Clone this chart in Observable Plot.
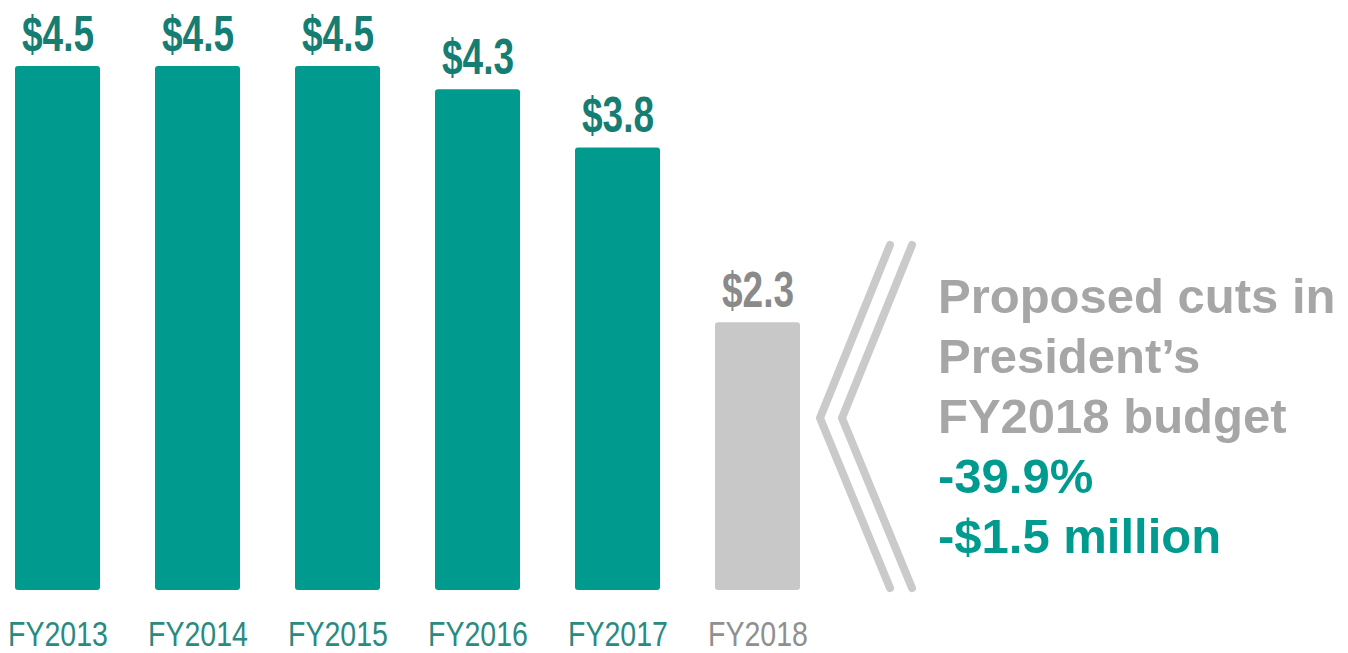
<!DOCTYPE html>
<html>
<head>
<meta charset="utf-8">
<script src="https://cdn.jsdelivr.net/npm/d3@7"></script>
<script src="https://cdn.jsdelivr.net/npm/@observablehq/plot@0.6"></script>
<style>
  html, body { margin: 0; padding: 0; background: #fff; }
  #wrap { position: relative; width: 1348px; height: 653px; overflow: hidden; }
  #note { position: absolute; left: 938px; top: 266px; font-family: "Liberation Sans", Arial, sans-serif; font-weight: bold; font-size: 49px; line-height: 60px; color: #a6a6a6; white-space: nowrap; }
  #note .teal { color: #009b8f; }
  #chev { position: absolute; left: 0; top: 0; }
</style>
</head>
<body>
<div id="wrap"></div>
<script>
// Data
const years = ["FY2013", "FY2014", "FY2015", "FY2016", "FY2017", "FY2018"];
const values = [4.5, 4.5, 4.5, 4.3, 3.8, 2.3];
const labels = ["$4.5", "$4.5", "$4.5", "$4.3", "$3.8", "$2.3"];
const proposed = [false, false, false, false, false, true];
const noteLines = ["Proposed cuts in", "President\u2019s", "FY2018 budget"];
const noteHighlights = ["-39.9%", "-$1.5 million"];

const data = years.map((y, i) => ({year: y, value: values[i], label: labels[i], proposed: proposed[i]}));

const barTeal = "#009b8f", labelTeal = "#157d72", axisTeal = "#2a8a80";
const barGray = "#c8c8c8", labelGray = "#8a8a8a";

const chart = Plot.plot({
  width: 1348,
  height: 653,
  marginTop: 66,
  marginBottom: 63,
  marginLeft: 0,
  marginRight: 0,
  x: {domain: years, range: [12, 804], paddingInner: 0.39, paddingOuter: 0.02, axis: null},
  y: {domain: [0, 4.5], axis: null},
  color: {type: "identity"},
  marks: [
    Plot.barY(data, {x: "year", y: "value", fill: d => d.proposed ? barGray : barTeal, rx: 3}),
    Plot.text(data, {x: "year", y: "value", text: "label", dy: -16, lineAnchor: "bottom",
      fill: d => d.proposed ? labelGray : labelTeal,
      fontFamily: "Liberation Sans, Arial, sans-serif", fontWeight: "bold", fontSize: 50}),
    Plot.text(data, {x: "year", y: 0, text: "year", dy: 55, lineAnchor: "bottom",
      fill: d => d.proposed ? "#8f8f8f" : axisTeal,
      fontFamily: "Liberation Sans, Arial, sans-serif", fontSize: 35})
  ]
});

const groups = chart.querySelectorAll('g[aria-label="text"]');
if (groups[0]) groups[0].querySelectorAll("text").forEach(t => { t.setAttribute("textLength", 72); t.setAttribute("lengthAdjust", "spacingAndGlyphs"); });
if (groups[1]) groups[1].querySelectorAll("text").forEach(t => { t.setAttribute("textLength", 100); t.setAttribute("lengthAdjust", "spacingAndGlyphs"); });

const wrap = document.getElementById("wrap");
wrap.appendChild(chart);

// Chevron decoration
const ns = "http://www.w3.org/2000/svg";
const chev = document.createElementNS(ns, "svg");
chev.setAttribute("id", "chev");
chev.setAttribute("width", 1348);
chev.setAttribute("height", 653);
[["890,245 820,418 890,588"], ["912,245 842,418 912,588"]].forEach(([pts]) => {
  const pl = document.createElementNS(ns, "polyline");
  pl.setAttribute("points", pts);
  pl.setAttribute("fill", "none");
  pl.setAttribute("stroke", "#cacaca");
  pl.setAttribute("stroke-width", 8);
  pl.setAttribute("stroke-linecap", "round");
  pl.setAttribute("stroke-linejoin", "round");
  chev.appendChild(pl);
});
wrap.appendChild(chev);

// Annotation text
const note = document.createElement("div");
note.id = "note";
noteLines.forEach(s => { const d = document.createElement("div"); d.textContent = s; note.appendChild(d); });
noteHighlights.forEach(s => { const d = document.createElement("div"); d.className = "teal"; d.textContent = s; note.appendChild(d); });
wrap.appendChild(note);
</script>
</body>
</html>
